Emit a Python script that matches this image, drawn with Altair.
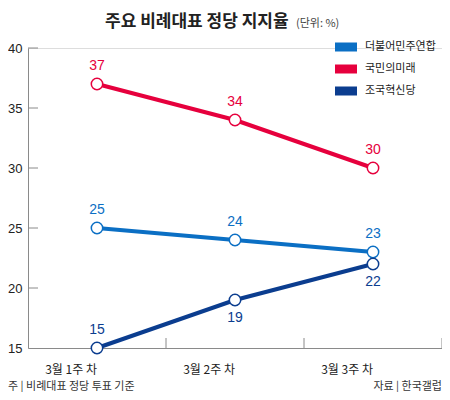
import altair as alt
import pandas as pd

# ---- data ----
weeks = ["3월 1주 차", "3월 2주 차", "3월 3주 차"]
parties = ["더불어민주연합", "국민의미래", "조국혁신당"]
colors = ["#0b6fc4", "#e6003d", "#0b3d8f"]
dem = [25, 24, 23]
ppp = [37, 34, 30]
reb = [15, 19, 22]
dem_pos = ["above", "above", "above"]
ppp_pos = ["above", "above", "above"]
reb_pos = ["above", "below", "below"]
y_ticks = [15, 20, 25, 30, 35, 40]

title_text = "주요 비례대표 정당 지지율"
unit_text = "(단위: %)"
note_text = "주 | 비례대표 정당 투표 기준"
source_text = "자료 | 한국갤럽"

rows = []
for party, vals, poss in [(parties[0], dem, dem_pos), (parties[1], ppp, ppp_pos), (parties[2], reb, reb_pos)]:
    for w, v, p in zip(weeks, vals, poss):
        rows.append({"week": w, "party": party, "value": v, "pos": p})
df = pd.DataFrame(rows)
legend_df = pd.DataFrame({"party": parties})

KR = "Noto Sans CJK KR"
NUM = "Liberation Sans Narrow, Liberation Sans, Arial"
W, H = 414, 300

xscale = alt.Scale(type="band", domain=weeks, paddingInner=0, paddingOuter=0)
yscale = alt.Scale(domain=[15, 40], nice=False, zero=False)
cscale = alt.Scale(domain=parties, range=colors)

x_main = alt.X("week:N", scale=xscale, sort=weeks,
               axis=alt.Axis(title=None, ticks=False, tickSize=0, labelPadding=21, labelFontSize=12,
                             labelFont=KR, labelColor="#222", domainColor="#8a8a8a",
                             labelAngle=0, labelBaseline="middle"))
y_main = alt.Y("value:Q", scale=yscale,
               axis=alt.Axis(title=None, ticks=False, values=y_ticks, labelPadding=6,
                             labelFontSize=13, labelFont=NUM, labelColor="#222",
                             domainColor="#8a8a8a", grid=False))

base = alt.Chart(df)

lines = base.mark_line(strokeWidth=4).encode(
    x=x_main, y=y_main,
    stroke=alt.Stroke("party:N", scale=cscale, legend=None),
    detail="party:N",
)

points = base.mark_point(shape="circle", size=130, strokeWidth=1.5, opacity=1).encode(
    x=alt.X("week:N", scale=xscale, sort=weeks),
    y=alt.Y("value:Q", scale=yscale),
    stroke=alt.Stroke("party:N", scale=cscale, legend=None),
    fill=alt.value("white"),
)

labels_above = base.transform_filter(alt.datum.pos == "above").mark_text(
    dy=-11, baseline="bottom", fontSize=14, font=NUM).encode(
    x=alt.X("week:N", scale=xscale, sort=weeks),
    y=alt.Y("value:Q", scale=yscale),
    text="value:Q",
    fill=alt.Fill("party:N", scale=cscale, legend=None),
)

labels_below = base.transform_filter(alt.datum.pos == "below").mark_text(
    dy=11, baseline="top", fontSize=14, font=NUM).encode(
    x=alt.X("week:N", scale=xscale, sort=weeks),
    y=alt.Y("value:Q", scale=yscale),
    text="value:Q",
    fill=alt.Fill("party:N", scale=cscale, legend=None),
)

ytick_df = pd.DataFrame({"value": y_ticks[1:]})
yticks = alt.Chart(ytick_df).mark_rule(color="#8a8a8a", strokeWidth=1).encode(
    y=alt.Y("value:Q", scale=yscale),
    x=alt.value(0), x2=alt.value(10),
)

xtick_df = pd.DataFrame({"week": weeks})
xticks = alt.Chart(xtick_df).mark_rule(color="#8a8a8a", strokeWidth=1).encode(
    x=alt.X("week:N", scale=xscale, sort=weeks, bandPosition=1),
    y=alt.value(H - 10), y2=alt.value(H),
)

def note(text, x, y, size, align="left", weight="normal", color="#222", baseline="alphabetic"):
    return alt.Chart(pd.DataFrame({"t": [text]})).mark_text(
        align=align, baseline=baseline, fontSize=size, font=KR, fontWeight=weight, color=color
    ).encode(text="t:N", x=alt.value(x), y=alt.value(y))

title = note(title_text, 77, -21, 17, weight="bold")
unit = note(unit_text, 268, -21, 11, color="#444")
foot_l = note(note_text, -20, 342, 11, color="#333")
foot_r = note(source_text, W, 342, 11, align="right", color="#333")

# legend built from the party list, on its own vertical scale
leg_y = alt.Y("party:N", sort=parties, axis=None,
              scale=alt.Scale(type="point", domain=parties, range=[-1, 43], padding=0))
leg_swatch = alt.Chart(legend_df).mark_rule(strokeWidth=9).encode(
    y=leg_y, x=alt.value(307), x2=alt.value(329),
    stroke=alt.Stroke("party:N", scale=cscale, legend=None),
)
leg_text = alt.Chart(legend_df).mark_text(
    align="left", baseline="middle", fontSize=11, font=KR, color="#222").encode(
    y=leg_y, x=alt.value(337), text="party:N",
)

main = alt.layer(yticks, xticks, lines, points, labels_above, labels_below,
                 title, unit, foot_l, foot_r)
legend_block = alt.layer(leg_swatch, leg_text)

chart = alt.layer(main, legend_block).resolve_scale(y="independent").properties(
    width=W, height=H,
    autosize=alt.AutoSizeParams(type="none"),
    padding={"left": 20, "top": 40, "right": 0, "bottom": 44},
).configure_view(stroke=None).configure(background="white")

chart.save("out.html", embed_options={"renderer": "svg", "actions": False})
